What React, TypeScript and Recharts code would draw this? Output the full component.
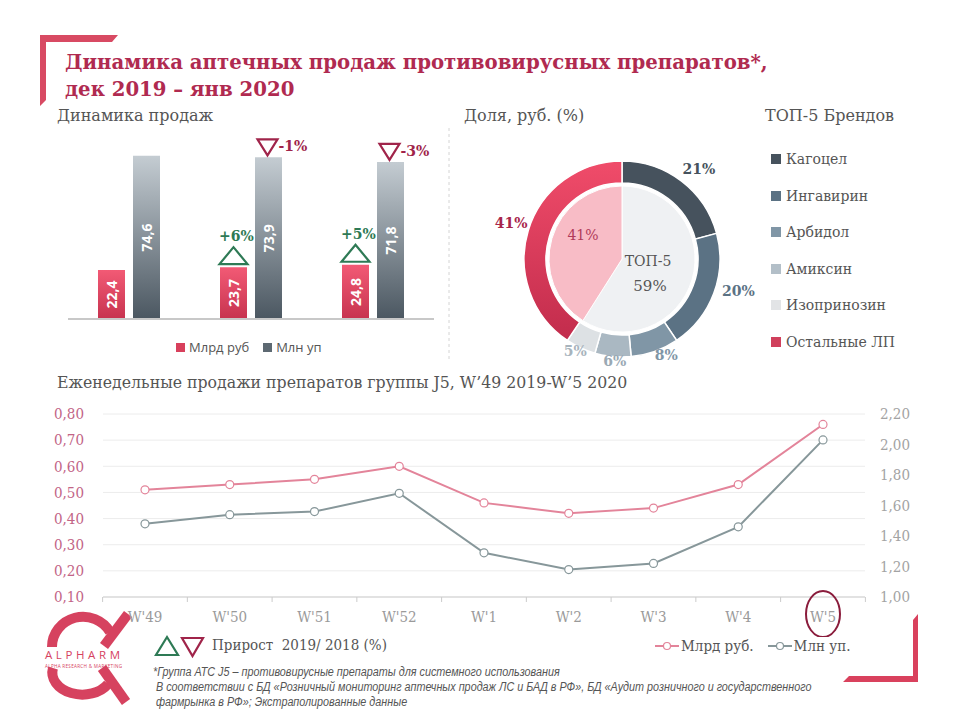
import React from 'react';
import { BarChart, Bar, XAxis, YAxis, LabelList, PieChart, Pie, Cell, LineChart, Line, CartesianGrid } from 'recharts';

// bar block: three periods (dec–jan)
const periods = ['дек 2017 – янв 2018', 'дек 2018 – янв 2019', 'дек 2019 – янв 2020'];
const salesRub = [22.4, 23.7, 24.8];
const salesUnits = [74.6, 73.9, 71.8];
const growthRub = ['', '+6%', '+5%'];
const growthUnits = ['', '-1%', '-3%'];

// donut
const brands = ['Кагоцел', 'Ингавирин', 'Арбидол', 'Амиксин', 'Изопринозин', 'Остальные ЛП'];
const brandShares = [21, 20, 8, 6, 5, 41];
const brandColors = ['#46525d', '#5b7284', '#8096a6', '#aab8c2', '#dde1e4', 'url(#ringRed)'];
const brandLegendColors = ['#46525d', '#5b7284', '#8096a6', '#b3bfc8', '#e2e4e6', '#d0405c'];
const brandLabelColors = ['#46525d', '#5b7284', '#8096a6', '#9aa9b4', '#a8b4bd', '#a8264b'];
const innerNames = ['ТОП-5', 'Остальные ЛП'];
const innerShares = [59, 41];
const innerColors = ['#eff1f3', '#f8bcc6'];

// weekly lines
const weeks = ["W'49", "W'50", "W'51", "W'52", "W'1", "W'2", "W'3", "W'4", "W'5"];
const weeklyRub = [0.51, 0.53, 0.55, 0.6, 0.46, 0.42, 0.44, 0.53, 0.76];
const weeklyUnits = [1.48, 1.54, 1.56, 1.68, 1.29, 1.18, 1.22, 1.46, 2.03];
const leftTicks = [0.1, 0.2, 0.3, 0.4, 0.5, 0.6, 0.7, 0.8];
const rightTicks = [1.0, 1.2, 1.4, 1.6, 1.8, 2.0, 2.2];

const barData = periods.map((p, i) => ({
  period: p,
  rub: salesRub[i],
  units: salesUnits[i],
  rubGrowth: growthRub[i],
  unitsGrowth: growthUnits[i],
}));
const ringData = brands.map((b, i) => ({ name: b, value: brandShares[i] }));
const innerData = innerNames.map((n, i) => ({ name: n, value: innerShares[i] }));
const lineData = weeks.map((w, i) => ({ week: w, rub: weeklyRub[i], units: weeklyUnits[i] }));

const SERIF = '"DejaVu Serif", serif';
const COND = '"DejaVu Serif Condensed", "Liberation Serif", serif';
const comma = (v: number) => v.toFixed(2).replace('.', ',');
const RAD = Math.PI / 180;

const ValueInside = (props: any) => {
  const { x, y, width, height, value } = props;
  const cx = Number(x) + Number(width) / 2;
  const cy = Number(y) + Number(height) / 2;
  return (
    <text x={cx} y={cy} transform={`rotate(-90 ${cx} ${cy})`} textAnchor="middle" dominantBaseline="central"
      fill="#fff" fontFamily="Open Sans" fontWeight={700} fontSize={14}>
      {String(value).replace('.', ',')}
    </text>
  );
};

const UpMark = (props: any) => {
  const { x, y, width, value } = props;
  if (!value) return null;
  const cx = Number(x) + Number(width) / 2;
  const top = Number(y);
  return (
    <g>
      <path d={`M${cx - 14},${top - 3} L${cx + 14},${top - 3} L${cx},${top - 20} Z`} fill="none" stroke="#2e7a55" strokeWidth={2.2} />
      <text x={cx + 3} y={top - 31} textAnchor="middle" dominantBaseline="central" fill="#2e7a55"
        fontFamily={SERIF} fontWeight={700} fontSize={14}>{value}</text>
    </g>
  );
};

const DownMark = (props: any) => {
  const { x, y, width, value } = props;
  if (!value) return null;
  const cx = Number(x) + Number(width) / 2 - 1;
  const top = Number(y);
  return (
    <g>
      <path d={`M${cx - 10},${top - 18} L${cx + 10},${top - 18} L${cx},${top - 2} Z`} fill="none" stroke="#a0244a" strokeWidth={2.2} />
      <text x={cx + 11} y={top - 11} textAnchor="start" dominantBaseline="central" fill="#a0244a"
        fontFamily={SERIF} fontWeight={700} fontSize={14}>{value}</text>
    </g>
  );
};

const ringLabel = (props: any) => {
  const { cx, cy, midAngle, outerRadius, index } = props;
  const x = cx + (outerRadius + 22) * Math.cos(-midAngle * RAD) + 4;
  const y = cy + (outerRadius + 9) * Math.sin(-midAngle * RAD) - 5;
  return (
    <text x={x} y={y} textAnchor="middle" dominantBaseline="central" fill={brandLabelColors[index]}
      fontFamily={SERIF} fontWeight={700} fontSize={14}>{brandShares[index]}%</text>
  );
};

const innerLabel = (props: any) => {
  const { cx, cy, index } = props;
  if (index === 0) {
    return (
      <g fontFamily={SERIF} fill="#555" fontSize={14}>
        <text x={cx + 26} y={cy + 2} textAnchor="middle" dominantBaseline="central">{innerNames[0]}</text>
        <text x={cx + 28} y={cy + 27} textAnchor="middle" dominantBaseline="central" fontSize={15}>{innerShares[0]}%</text>
      </g>
    );
  }
  return (
    <text x={cx - 39} y={cy - 24} textAnchor="middle" dominantBaseline="central" fill="#b03a5a"
      fontFamily={SERIF} fontSize={14}>{innerShares[1]}%</text>
  );
};

const WeekTick = (props: any) => {
  const { x, y, payload } = props;
  const last = payload.value === weeks[weeks.length - 1];
  const half = 42.4;
  return (
    <g>
      <line x1={x - half} y1={y - 8} x2={x - half} y2={y - 3} stroke="#ccc" />
      {last && <line x1={x + half} y1={y - 8} x2={x + half} y2={y - 3} stroke="#ccc" />}
      <text x={x} y={y + 17} textAnchor="middle" fill="#9a9a9a" fontFamily={COND} fontSize={15}>{payload.value}</text>
      {last && <ellipse cx={x} cy={y + 9} rx={17} ry={23} fill="none" stroke="#8a1c3c" strokeWidth={2} />}
    </g>
  );
};

const abs = (left: number, top: number, extra: React.CSSProperties = {}): React.CSSProperties => ({
  position: 'absolute', left, top, whiteSpace: 'nowrap', ...extra,
});

export default function App() {
  return (
    <div style={{ position: 'absolute', left: 0, top: 0, width: 960, height: 720, background: '#fff', overflow: 'hidden' }}>
      <svg width={960} height={720} style={{ position: 'absolute', left: 0, top: 0 }}>
        {/* corner brackets */}
        <path d="M40,35 L118,35 L112,42 L46,42 L46,100 L40,106 Z" fill="#d84a63" />
        <path d="M918,682 L843,682 L849,676 L913,676 L913,620 L918,614 Z" fill="#d9415d" />
        {/* dashed divider */}
        <line x1={449} y1={128} x2={449} y2={362} stroke="#d4d4d4" strokeDasharray="3 3" />
        {/* logo */}
        <g fill="none" stroke="#d6425f" strokeWidth={10}>
          <path d="M52,647 A31,30 0 0 1 110,632" />
          <path d="M104,646 L128,614" />
          <path d="M53,668 A30,22 0 0 0 108,684" />
          <path d="M102,668 L126,702" />
        </g>
        <text x={45} y={659} fill="#d6425f" fontFamily="Open Sans" fontSize={11.5} letterSpacing={3.6}>ALPHARM</text>
        <text x={45} y={668} fill="#d6425f" fontFamily="Open Sans" fontSize={4.6} letterSpacing={0.3}>ALPHA RESEARCH &amp; MARKETING</text>
        {/* growth legend */}
        <path d="M156,655 L178,655 L167,637 Z" fill="none" stroke="#2e7a55" strokeWidth={2.2} />
        <path d="M182,638 L203,638 L192.5,656 Z" fill="none" stroke="#a0244a" strokeWidth={2.2} />
      </svg>

      <div style={abs(65, 49, { fontFamily: SERIF, fontWeight: 700, fontSize: 19.7, color: '#b02a50', lineHeight: '27px' })}>
        Динамика аптечных продаж противовирусных препаратов*,<br />дек 2019 – янв 2020
      </div>

      <div style={abs(57, 106, { fontFamily: SERIF, fontSize: 16, color: '#555' })}>Динамика продаж</div>
      <div style={abs(464, 106, { fontFamily: SERIF, fontSize: 16, color: '#555' })}>Доля, руб. (%)</div>
      <div style={abs(765, 106, { fontFamily: SERIF, fontSize: 16, color: '#555' })}>ТОП-5 Брендов</div>

      <div style={abs(60, 120)}>
        <BarChart width={390} height={210} data={barData} margin={{ top: 24, right: 16, bottom: 10, left: 8 }}
          barCategoryGap={30} barGap={8}>
          <defs>
            <linearGradient id="barRed" x1="0" y1="0" x2="0" y2="1">
              <stop offset="0%" stopColor="#f25a75" />
              <stop offset="100%" stopColor="#c7334f" />
            </linearGradient>
            <linearGradient id="barGray" x1="0" y1="0" x2="0" y2="1">
              <stop offset="0%" stopColor="#c4ccd2" />
              <stop offset="100%" stopColor="#4b5761" />
            </linearGradient>
          </defs>
          <XAxis dataKey="period" height={1} tick={false} tickLine={false} axisLine={{ stroke: '#c8c8c8', strokeWidth: 2 }} />
          <YAxis hide domain={[0, 80]} />
          <Bar dataKey="rub" name="Млрд руб" fill="url(#barRed)" barSize={27} isAnimationActive={false}>
            <LabelList dataKey="rub" content={ValueInside} />
            <LabelList dataKey="rubGrowth" content={UpMark} />
          </Bar>
          <Bar dataKey="units" name="Млн уп" fill="url(#barGray)" barSize={27} isAnimationActive={false}>
            <LabelList dataKey="units" content={ValueInside} />
            <LabelList dataKey="unitsGrowth" content={DownMark} />
          </Bar>
        </BarChart>
      </div>

      <div style={abs(176, 338, { fontFamily: 'Open Sans', fontSize: 13, color: '#555', display: 'flex', gap: 14 })}>
        {[['#d8405c', 'Млрд руб'], ['#5d6972', 'Млн уп']].map(([c, t]) => (
          <span key={t} style={{ display: 'flex', alignItems: 'center', gap: 4 }}>
            <span style={{ width: 9, height: 9, background: c, display: 'inline-block' }} />{t}
          </span>
        ))}
      </div>

      <div style={abs(455, 130)}>
        <PieChart width={330} height={250}>
          <defs>
            <linearGradient id="ringRed" x1="0" y1="1" x2="0" y2="0">
              <stop offset="0%" stopColor="#c22c4c" />
              <stop offset="100%" stopColor="#f04c6a" />
            </linearGradient>
          </defs>
          <Pie data={innerData} dataKey="value" cx={162} cy={124} outerRadius={73} startAngle={90} endAngle={-270}
            stroke="#fff" strokeWidth={1} label={innerLabel} labelLine={false} isAnimationActive={false}>
            {innerData.map((d, i) => <Cell key={d.name} fill={innerColors[i]} />)}
          </Pie>
          <Pie data={ringData} dataKey="value" cx={162} cy={124} innerRadius={76} outerRadius={98} startAngle={90} endAngle={-270}
            stroke="#fff" strokeWidth={1.5} label={ringLabel} labelLine={false} isAnimationActive={false}>
            {ringData.map((d, i) => <Cell key={d.name} fill={brandColors[i]} />)}
          </Pie>
        </PieChart>
      </div>

      {brands.map((b, i) => (
        <div key={b} style={abs(771, 150 + i * 36.6, { display: 'flex', alignItems: 'center', gap: 5, fontFamily: SERIF, fontSize: 14, color: '#555', height: 18 })}>
          <span style={{ width: 10, height: 10, background: brandLegendColors[i], display: 'inline-block' }} />{b}
        </div>
      ))}

      <div style={abs(57, 372, { fontFamily: COND, fontSize: 17.5, color: '#555' })}>
        Еженедельные продажи препаратов группы J5, W’49 2019-W’5 2020
      </div>

      <div style={abs(40, 400)}>
        <LineChart width={880} height={237} data={lineData} margin={{ top: 14, right: 0, bottom: 0, left: 0 }}>
          <CartesianGrid yAxisId="left" vertical={false} stroke="#ececec" />
          <XAxis dataKey="week" padding={{ left: 42, right: 42 }} height={40} tickLine={false}
            axisLine={{ stroke: '#cfcfcf' }} tick={WeekTick} interval={0} />
          <YAxis yAxisId="left" orientation="left" width={63} domain={[0.1, 0.8]} ticks={leftTicks}
            tickFormatter={comma} axisLine={false} tickLine={false} tickMargin={13}
            tick={{ fill: '#c26486', fontFamily: COND, fontSize: 15 }} />
          <YAxis yAxisId="right" orientation="right" width={55} domain={[1.0, 2.2]} ticks={rightTicks}
            tickFormatter={comma} axisLine={false} tickLine={false} tickMargin={9}
            tick={{ fill: '#a3a3a3', fontFamily: COND, fontSize: 15, textAnchor: 'start' }} />
          <Line yAxisId="left" dataKey="rub" name="Млрд руб." stroke="#e3849a" strokeWidth={2}
            dot={{ r: 4, fill: '#fff', stroke: '#e3849a', strokeWidth: 1.2 }} isAnimationActive={false} />
          <Line yAxisId="right" dataKey="units" name="Млн уп." stroke="#87979a" strokeWidth={2}
            dot={{ r: 4, fill: '#fff', stroke: '#87979a', strokeWidth: 1.2 }} isAnimationActive={false} />
        </LineChart>
      </div>

      <div style={abs(655, 637, { display: 'flex', gap: 14, fontFamily: COND, fontSize: 15, color: '#555' })}>
        {[['#e3849a', 'Млрд руб.'], ['#87979a', 'Млн уп.']].map(([c, t]) => (
          <span key={t} style={{ display: 'flex', alignItems: 'center', gap: 2 }}>
            <svg width={24} height={10}>
              <line x1={0} y1={5} x2={24} y2={5} stroke={c} strokeWidth={2} />
              <circle cx={12} cy={5} r={3.5} fill="#fff" stroke={c} strokeWidth={1.2} />
            </svg>{t}
          </span>
        ))}
      </div>

      <div style={abs(212, 636, { fontFamily: COND, fontSize: 15, color: '#555' })}>Прирост&nbsp; 2019/ 2018 (%)</div>

      <div style={abs(153, 665, { fontFamily: '"Liberation Sans Narrow", "Liberation Sans", sans-serif', fontStyle: 'italic', fontSize: 12, color: '#555', lineHeight: '15px', transform: 'scaleX(0.9)', transformOrigin: '0 0' })}>
        *Группа АТС J5 – противовирусные препараты для системного использования<br />
        &nbsp;В соответствии с БД «Розничный мониторинг аптечных продаж ЛС и БАД в РФ», БД «Аудит розничного и государственного<br />
        &nbsp;фармрынка в РФ»; Экстраполированные данные
      </div>
    </div>
  );
}
